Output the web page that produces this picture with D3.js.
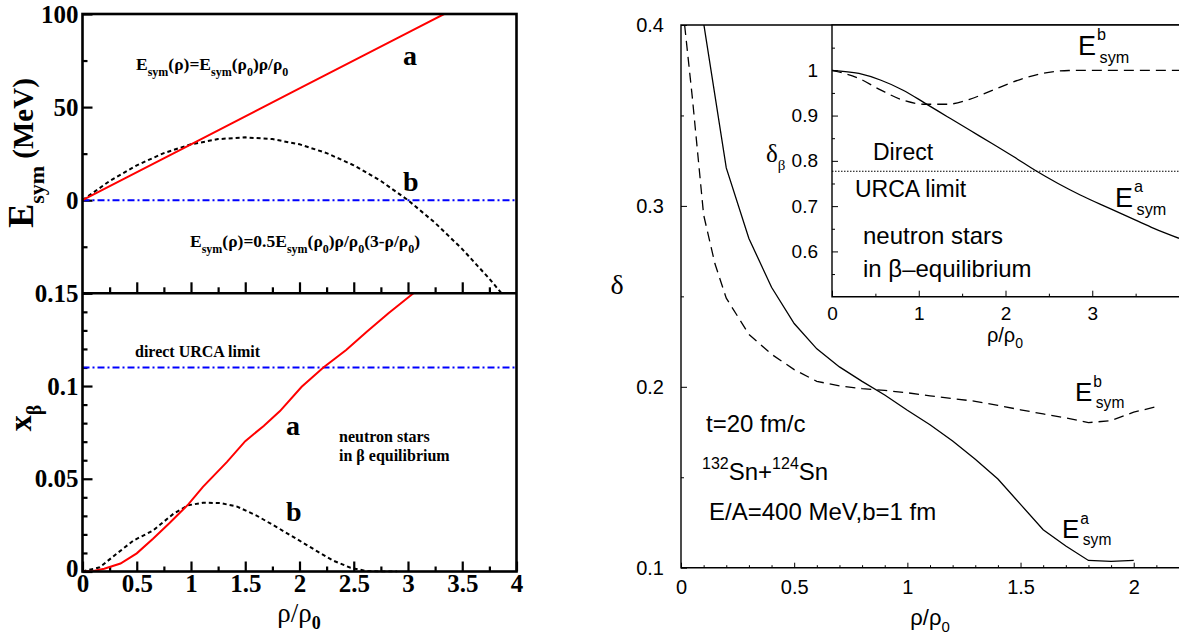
<!DOCTYPE html>
<html>
<head>
<meta charset="utf-8">
<script src="https://cdn.jsdelivr.net/npm/d3@7"></script>
<style>
  body { margin: 0; background: #fff; }
  svg { display: block; }
</style>
</head>
<body>
<svg id="chart" width="1179" height="636"></svg>
<script>
// ---------- data ----------
// Left, upper panel: symmetry energy (MeV) vs rho/rho0
const rhoEsymA = [0, 1, 2, 3, 3.333];
const esymA    = [0, 30, 60, 90, 100];
const rhoEsymB = [0, 0.25, 0.5, 0.75, 1, 1.25, 1.5, 1.75, 2, 2.25, 2.5, 2.75, 3, 3.25, 3.5, 3.75, 3.87];
const esymB    = [0, 10.31, 18.75, 25.31, 30, 32.81, 33.75, 32.81, 30, 25.31, 18.75, 10.31, 0, -12.19, -26.25, -42.19, -50.5];
const esymZero = 0;

// Left, lower panel: proton fraction x_beta vs rho/rho0
const rhoXa  = [0, 0.1, 0.2, 0.35, 0.5, 0.65, 0.8, 0.975, 1.11, 1.33, 1.5, 1.67, 1.82, 2.02, 2.22, 2.43, 2.62, 2.82, 3.05];
const xBetaA = [0, 0.0003, 0.0015, 0.0043, 0.0098, 0.0177, 0.026, 0.0362, 0.0456, 0.059, 0.0703, 0.0785, 0.0865, 0.0996, 0.110, 0.1194, 0.1293, 0.1392, 0.150];
const rhoXb  = [0, 0.16, 0.315, 0.47, 0.65, 0.84, 0.975, 1.11, 1.27, 1.42, 1.6, 1.79, 1.97, 2.16, 2.31, 2.47, 2.62, 2.75, 2.9];
const xBetaB = [0, 0.0023, 0.0096, 0.0167, 0.0221, 0.0312, 0.0357, 0.0371, 0.0369, 0.0351, 0.0303, 0.0239, 0.0177, 0.011, 0.0059, 0.002, 0.0002, 0, 0];
const urcaXBeta = 0.11;

// Right, main panel: isospin asymmetry delta vs rho/rho0 (t = 20 fm/c)
const rhoDeltaA = [0.1, 0.2, 0.3, 0.4, 0.5, 0.6, 0.7, 0.8, 0.9, 1.0, 1.1, 1.2, 1.3, 1.4, 1.5, 1.6, 1.7, 1.8, 1.9, 2.0];
const deltaA    = [0.401, 0.321, 0.282, 0.255, 0.235, 0.221, 0.211, 0.203, 0.1955, 0.187, 0.179, 0.170, 0.160, 0.149, 0.135, 0.121, 0.112, 0.104, 0.1035, 0.104];
const rhoDeltaB = [0.016, 0.05, 0.1, 0.15, 0.2, 0.3, 0.4, 0.5, 0.6, 0.7, 0.8, 0.9, 1.0, 1.1, 1.2, 1.3, 1.4, 1.5, 1.6, 1.7, 1.8, 1.9, 2.0, 2.1];
const deltaB    = [0.400, 0.360, 0.295, 0.268, 0.249, 0.229, 0.218, 0.2095, 0.203, 0.2005, 0.199, 0.198, 0.1967, 0.195, 0.1935, 0.192, 0.1897, 0.1873, 0.185, 0.1828, 0.1802, 0.1813, 0.186, 0.189];

// Right, inset: delta_beta of neutron-star matter vs rho/rho0
const rhoInsetA   = [0, 0.31, 0.565, 0.82, 1.075, 1.33, 1.586, 1.84, 2.096, 2.35, 2.606, 2.862, 3.2, 3.5, 3.71, 4.0];
const deltaBetaA  = [1.0, 0.993, 0.978, 0.956, 0.927, 0.8975, 0.868, 0.839, 0.809, 0.778, 0.75, 0.7246, 0.695, 0.669, 0.651, 0.629];
const rhoInsetB   = [0, 0.31, 0.565, 0.82, 1.075, 1.33, 1.586, 1.84, 2.16, 2.48, 2.73, 3.13, 4.0];
const deltaBetaB  = [1.0, 0.982, 0.956, 0.934, 0.925, 0.925, 0.936, 0.955, 0.979, 0.995, 0.9995, 1.0, 1.0];
const urcaDeltaBeta = 0.777;

// tick values
const leftXMajor   = [0, 0.5, 1, 1.5, 2, 2.5, 3, 3.5, 4];
const leftXMinor   = [0.25, 0.75, 1.25, 1.75, 2.25, 2.75, 3.25, 3.75];
const esymMajor    = [0, 50, 100];
const esymMinor    = [-25, 25, 75];
const xBetaMajor   = [0, 0.05, 0.1, 0.15];
const xBetaMinor   = [0.01, 0.02, 0.03, 0.04, 0.06, 0.07, 0.08, 0.09, 0.11, 0.12, 0.13, 0.14];
const mainXMajor   = [0, 0.5, 1, 1.5, 2];
const mainXMinor   = [0.1, 0.2, 0.3, 0.4, 0.6, 0.7, 0.8, 0.9, 1.1, 1.2, 1.3, 1.4, 1.6, 1.7, 1.8, 1.9, 2.1];
const mainYMajor   = [0.1, 0.2, 0.3, 0.4];
const mainYMinor   = [0.15, 0.25, 0.35];
const insetXMajor  = [0, 1, 2, 3];
const insetXMinor  = [0.5, 1.5, 2.5, 3.5];
const insetYMajor  = [0.6, 0.7, 0.8, 0.9, 1];
const insetYMinor  = [0.55, 0.65, 0.75, 0.85, 0.95, 1.05];

// ---------- helpers ----------
const svg = d3.select("#chart");
const SERIF = "'Liberation Serif', 'Times New Roman', serif";
const SANS  = "'Liberation Sans', Arial, Helvetica, sans-serif";
const pairs = (xs, ys) => xs.map((x, i) => [x, ys[i]]);

// text with sub/superscripts: parts = [[text, kind, size, weight]]
function rich(g, x, y, parts, opt) {
  const t = g.append("text").attr("x", x).attr("y", y)
    .attr("font-family", opt.family).attr("font-size", opt.size)
    .attr("font-weight", opt.weight || "normal")
    .attr("text-anchor", opt.anchor || "start")
    .attr("fill", "#000");
  if (opt.transform) t.attr("transform", opt.transform);
  let cur = 0;
  parts.forEach(([s, kind, size, weight]) => {
    const off = kind === "sub" ? opt.size * (opt.subShift || 0.3)
              : kind === "sup" ? -opt.size * (opt.supShift || 0.5) : 0;
    const ts = t.append("tspan").text(s).attr("dy", off - cur);
    if (size) ts.attr("font-size", size);
    if (weight) ts.attr("font-weight", weight);
    cur = off;
  });
  return t;
}

function styleAxis(g, family, size, weight) {
  g.select(".domain").remove();
  g.selectAll(".tick line").attr("stroke", "#000");
  g.selectAll(".tick text").attr("font-family", family).attr("font-size", size)
    .attr("font-weight", weight).attr("fill", "#000");
}

// ================= LEFT FIGURE =================
const xL   = d3.scaleLinear().domain([0, 4]).range([82.5, 516.5]);
const yTop = d3.scaleLinear().domain([-50, 100]).range([293.3, 14]);
const yBot = d3.scaleLinear().domain([0, 0.15]).range([571.5, 293.3]);

const left = svg.append("g");
const defs = svg.append("defs");
defs.append("clipPath").attr("id", "clipTop").append("rect")
  .attr("x", xL(0)).attr("y", yTop(100)).attr("width", xL(4) - xL(0)).attr("height", yTop(-50) - yTop(100));
defs.append("clipPath").attr("id", "clipBot").append("rect")
  .attr("x", xL(0)).attr("y", yBot(0.15) - 1).attr("width", xL(4) - xL(0)).attr("height", yBot(0) - yBot(0.15) + 2);

// upper panel axes
const lw = 2.2;
let ax = left.append("g").attr("transform", `translate(${xL(0)},0)`)
  .call(d3.axisLeft(yTop).tickValues(esymMajor).tickSize(-10).tickPadding(4).tickFormat(d3.format("d")));
styleAxis(ax, SERIF, 25, "bold"); ax.selectAll(".tick line").attr("stroke-width", lw);
ax = left.append("g").attr("transform", `translate(${xL(0)},0)`)
  .call(d3.axisLeft(yTop).tickValues(esymMinor).tickSize(-5).tickFormat(""));
styleAxis(ax, SERIF, 25, "bold"); ax.selectAll(".tick line").attr("stroke-width", lw);
ax = left.append("g").attr("transform", `translate(0,${yTop(-50)})`)
  .call(d3.axisBottom(xL).tickValues(leftXMajor.slice(1, -1)).tickSize(-11).tickFormat(""));
styleAxis(ax, SERIF, 25, "bold"); ax.selectAll(".tick line").attr("stroke-width", lw);
ax = left.append("g").attr("transform", `translate(0,${yTop(-50)})`)
  .call(d3.axisBottom(xL).tickValues(leftXMinor).tickSize(-6).tickFormat(""));
styleAxis(ax, SERIF, 25, "bold"); ax.selectAll(".tick line").attr("stroke-width", lw);

// lower panel axes
ax = left.append("g").attr("transform", `translate(${xL(0)},0)`)
  .call(d3.axisLeft(yBot).tickValues(xBetaMajor).tickSize(-10).tickPadding(4).tickFormat(d => d === 0 ? "0" : String(d)));
styleAxis(ax, SERIF, 25, "bold"); ax.selectAll(".tick line").attr("stroke-width", lw);
ax.selectAll(".tick").filter(d => d === 0).select("text").attr("dy", "0.2em");
ax = left.append("g").attr("transform", `translate(${xL(0)},0)`)
  .call(d3.axisLeft(yBot).tickValues(xBetaMinor).tickSize(-5).tickFormat(""));
styleAxis(ax, SERIF, 25, "bold"); ax.selectAll(".tick line").attr("stroke-width", lw);
ax = left.append("g").attr("transform", `translate(0,${yBot(0)})`)
  .call(d3.axisBottom(xL).tickValues(leftXMajor).tickSize(-10).tickPadding(3).tickFormat(d => String(d)));
styleAxis(ax, SERIF, 25, "bold"); ax.selectAll(".tick line").attr("stroke-width", lw);
ax = left.append("g").attr("transform", `translate(0,${yBot(0)})`)
  .call(d3.axisBottom(xL).tickValues(leftXMinor).tickSize(-5).tickFormat(""));
styleAxis(ax, SERIF, 25, "bold"); ax.selectAll(".tick line").attr("stroke-width", lw);

// upper panel curves
const lineTop = d3.line().x(d => xL(d[0])).y(d => yTop(d[1]));
const lineBot = d3.line().x(d => xL(d[0])).y(d => yBot(d[1]));
const gTop = left.append("g").attr("clip-path", "url(#clipTop)");
gTop.append("path").datum([[0, esymZero], [4, esymZero]]).attr("d", lineTop)
  .attr("fill", "none").attr("stroke", "#0000ff").attr("stroke-width", 2).attr("stroke-dasharray", "7,3,2,3");
gTop.append("path").datum(pairs(rhoEsymB, esymB)).attr("d", lineTop)
  .attr("fill", "none").attr("stroke", "#000").attr("stroke-width", 2).attr("stroke-dasharray", "4,3");
gTop.append("path").datum(pairs(rhoEsymA, esymA)).attr("d", lineTop)
  .attr("fill", "none").attr("stroke", "#ff0000").attr("stroke-width", 2);

// lower panel curves
const gBot = left.append("g").attr("clip-path", "url(#clipBot)");
gBot.append("path").datum([[0, urcaXBeta], [4, urcaXBeta]]).attr("d", lineBot)
  .attr("fill", "none").attr("stroke", "#0000ff").attr("stroke-width", 2).attr("stroke-dasharray", "7,3,2,3");
gBot.append("path").datum(pairs(rhoXb, xBetaB)).attr("d", lineBot)
  .attr("fill", "none").attr("stroke", "#000").attr("stroke-width", 2).attr("stroke-dasharray", "4,3");
gBot.append("path").datum(pairs(rhoXa, xBetaA)).attr("d", lineBot)
  .attr("fill", "none").attr("stroke", "#ff0000").attr("stroke-width", 2);

// frames
left.append("rect").attr("x", xL(0)).attr("y", yTop(100)).attr("width", xL(4) - xL(0))
  .attr("height", yBot(0) - yTop(100)).attr("fill", "none").attr("stroke", "#000").attr("stroke-width", 2.6);
left.append("line").attr("x1", xL(0)).attr("x2", xL(4)).attr("y1", yTop(-50)).attr("y2", yTop(-50))
  .attr("stroke", "#000").attr("stroke-width", 2.6);

// annotations, upper panel
const fB = { family: SERIF, size: 17.5, weight: "bold", subShift: 0.35 };
rich(left, 136, 70, [["E"], ["sym", "sub", 12], ["(ρ)=E", "n"], ["sym", "sub", 12], ["(ρ", "n"], ["0", "sub", 12], [")ρ/ρ", "n"], ["0", "sub", 12]], fB);
rich(left, 190, 247, [["E"], ["sym", "sub", 12], ["(ρ)=0.5E", "n"], ["sym", "sub", 12], ["(ρ", "n"], ["0", "sub", 12], [")ρ/ρ", "n"], ["0", "sub", 12], ["(3-ρ/ρ", "n"], ["0", "sub", 12], [")", "n"]], fB);
left.append("text").attr("x", 403).attr("y", 65).text("a")
  .attr("font-family", SERIF).attr("font-weight", "bold").attr("font-size", 28);
left.append("text").attr("x", 403).attr("y", 191).text("b")
  .attr("font-family", SERIF).attr("font-weight", "bold").attr("font-size", 28);

// annotations, lower panel
left.append("text").attr("x", 135).attr("y", 357).text("direct URCA limit")
  .attr("font-family", SERIF).attr("font-weight", "bold").attr("font-size", 16);
left.append("text").attr("x", 339).attr("y", 442).text("neutron stars")
  .attr("font-family", SERIF).attr("font-weight", "bold").attr("font-size", 16);
left.append("text").attr("x", 339).attr("y", 461).text("in β equilibrium")
  .attr("font-family", SERIF).attr("font-weight", "bold").attr("font-size", 16);
left.append("text").attr("x", 286).attr("y", 435).text("a")
  .attr("font-family", SERIF).attr("font-weight", "bold").attr("font-size", 28);
left.append("text").attr("x", 286).attr("y", 521).text("b")
  .attr("font-family", SERIF).attr("font-weight", "bold").attr("font-size", 28);

// axis titles
rich(left, 299, 622, [["ρ/ρ", "n"], ["0", "sub", 18, "bold"]],
  { family: SERIF, size: 27, anchor: "middle", subShift: 0.25 });
rich(left, 0, 0, [["E", "n", 36], ["sym", "sub", 22], [" (MeV)", "n", 29]],
  { family: SERIF, size: 30, weight: "bold", anchor: "middle", transform: "translate(33,153) rotate(-90)", subShift: 0.35 });
rich(left, 0, 0, [["x", "n"], ["β", "sub", 20]],
  { family: SERIF, size: 32, weight: "bold", anchor: "middle", transform: "translate(31,418) rotate(-90)", subShift: 0.3 });

// ================= RIGHT FIGURE =================
const xM = d3.scaleLinear().domain([0, 2.2]).range([681, 1179]);
const yM = d3.scaleLinear().domain([0.1, 0.4]).range([567.7, 25]);
const xI = d3.scaleLinear().domain([0, 4]).range([832, 1179]);
const yI = d3.scaleLinear().domain([0.5, 1.1]).range([296.7, 25]);

const right = svg.append("g");
defs.append("clipPath").attr("id", "clipMain").append("rect")
  .attr("x", xM(0)).attr("y", yM(0.4)).attr("width", xM(2.2) - xM(0)).attr("height", yM(0.1) - yM(0.4));
defs.append("clipPath").attr("id", "clipInset").append("rect")
  .attr("x", xI(0)).attr("y", yI(1.1)).attr("width", xI(4) - xI(0)).attr("height", yI(0.5) - yI(1.1));

// main axes
ax = right.append("g").attr("transform", `translate(${xM(0)},0)`)
  .call(d3.axisLeft(yM).tickValues(mainYMajor).tickSize(-6).tickPadding(17).tickFormat(d => String(d)));
styleAxis(ax, SANS, 20, "normal");
ax = right.append("g").attr("transform", `translate(${xM(0)},0)`)
  .call(d3.axisLeft(yM).tickValues(mainYMinor).tickSize(-3).tickFormat(""));
styleAxis(ax, SANS, 20, "normal");
ax = right.append("g").attr("transform", `translate(0,${yM(0.1)})`)
  .call(d3.axisBottom(xM).tickValues(mainXMajor).tickSize(-5).tickPadding(12).tickFormat(d => String(d)));
styleAxis(ax, SANS, 20, "normal");
ax = right.append("g").attr("transform", `translate(0,${yM(0.1)})`)
  .call(d3.axisBottom(xM).tickValues(mainXMinor).tickSize(-2.5).tickFormat(""));
styleAxis(ax, SANS, 20, "normal");

const lineM = d3.line().x(d => xM(d[0])).y(d => yM(d[1]));
const gM = right.append("g").attr("clip-path", "url(#clipMain)");
gM.append("path").datum(pairs(rhoDeltaB, deltaB)).attr("d", lineM)
  .attr("fill", "none").attr("stroke", "#000").attr("stroke-width", 1.3).attr("stroke-dasharray", "10,6");
gM.append("path").datum(pairs(rhoDeltaA, deltaA)).attr("d", lineM)
  .attr("fill", "none").attr("stroke", "#000").attr("stroke-width", 1.3);

// main frame (left, top, bottom)
right.append("path")
  .attr("d", `M${xM(2.2) + 2},${yM(0.4)}H${xM(0)}V${yM(0.1)}H${xM(2.2) + 2}`)
  .attr("fill", "none").attr("stroke", "#000").attr("stroke-width", 1.4);

// inset
const inset = right.append("g");
inset.append("rect").attr("x", xI(0)).attr("y", yI(1.1)).attr("width", xI(4) - xI(0) + 2)
  .attr("height", yI(0.5) - yI(1.1)).attr("fill", "#fff");
ax = inset.append("g").attr("transform", `translate(${xI(0)},0)`)
  .call(d3.axisLeft(yI).tickValues(insetYMajor).tickSize(-6).tickPadding(14).tickFormat(d => String(d)));
styleAxis(ax, SANS, 19, "normal");
ax = inset.append("g").attr("transform", `translate(${xI(0)},0)`)
  .call(d3.axisLeft(yI).tickValues(insetYMinor).tickSize(-3).tickFormat(""));
styleAxis(ax, SANS, 19, "normal");
ax = inset.append("g").attr("transform", `translate(0,${yI(0.5)})`)
  .call(d3.axisBottom(xI).tickValues(insetXMajor).tickSize(-6).tickPadding(10).tickFormat(d => String(d)));
styleAxis(ax, SANS, 19, "normal");
ax = inset.append("g").attr("transform", `translate(0,${yI(0.5)})`)
  .call(d3.axisBottom(xI).tickValues(insetXMinor).tickSize(-3).tickFormat(""));
styleAxis(ax, SANS, 19, "normal");

const lineI = d3.line().curve(d3.curveMonotoneX).x(d => xI(d[0])).y(d => yI(d[1]));
const gI = inset.append("g").attr("clip-path", "url(#clipInset)");
gI.append("path").datum([[0, urcaDeltaBeta], [4, urcaDeltaBeta]]).attr("d", lineI)
  .attr("fill", "none").attr("stroke", "#000").attr("stroke-width", 1.2).attr("stroke-dasharray", "1.5,1.5");
gI.append("path").datum(pairs(rhoInsetB, deltaBetaB)).attr("d", lineI)
  .attr("fill", "none").attr("stroke", "#000").attr("stroke-width", 1.3).attr("stroke-dasharray", "10,6");
gI.append("path").datum(pairs(rhoInsetA, deltaBetaA)).attr("d", lineI)
  .attr("fill", "none").attr("stroke", "#000").attr("stroke-width", 1.3);
inset.append("path")
  .attr("d", `M${xI(4) + 2},${yI(1.1)}H${xI(0)}V${yI(0.5)}H${xI(4) + 2}`)
  .attr("fill", "none").attr("stroke", "#000").attr("stroke-width", 1.4);

// inset texts
const sansTxt = (g, x, y, s, size) => g.append("text").attr("x", x).attr("y", y).text(s)
  .attr("font-family", SANS).attr("font-size", size).attr("fill", "#000");
sansTxt(inset, 873, 160, "Direct", 23);
sansTxt(inset, 855, 197, "URCA limit", 23);
sansTxt(inset, 863, 244, "neutron stars", 24);
sansTxt(inset, 863, 277, "in β–equilibrium", 24);

// E^x_sym labels
function esymLabel(g, x, y, sup, size) {
  sansTxt(g, x, y, "E", size);
  sansTxt(g, x + size * 0.7, y - size * 0.55, sup, size * 0.6);
  sansTxt(g, x + size * 0.8, y + size * 0.28, "sym", size * 0.6);
}
esymLabel(inset, 1078, 55, "b", 27);
esymLabel(inset, 1115, 207, "a", 27);
esymLabel(right, 1075, 401, "b", 26);
esymLabel(right, 1062, 538, "a", 26);

// main texts
sansTxt(right, 706, 432, "t=20 fm/c", 24);
rich(right, 702, 480, [["132", "sup", 16], ["Sn+", "n"], ["124", "sup", 16], ["Sn", "n"]],
  { family: SANS, size: 24, supShift: 0.45 });
sansTxt(right, 709, 520, "E/A=400 MeV,b=1 fm", 24);

// axis titles
rich(right, 930, 625, [["ρ/ρ", "n"], ["0", "sub", 15]], { family: SANS, size: 22, anchor: "middle", subShift: 0.3 });
rich(right, 1005, 342, [["ρ/ρ", "n"], ["0", "sub", 14]], { family: SANS, size: 20, anchor: "middle", subShift: 0.3 });
right.append("text").attr("x", 617).attr("y", 294).attr("text-anchor", "middle").text("δ")
  .attr("font-family", SERIF).attr("font-size", 28);
rich(right, 766, 162, [["δ", "n"], ["β", "sub", 15]], { family: SERIF, size: 25, subShift: 0.3 });
</script>
</body>
</html>
